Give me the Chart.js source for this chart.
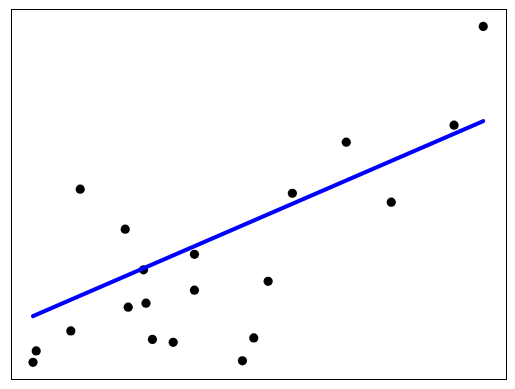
<!DOCTYPE html>
<html>
<head>
<meta charset="utf-8">
<script src="https://cdn.jsdelivr.net/npm/chart.js@4/dist/chart.umd.min.js"></script>
<style>
    body { margin: 0; background: #fff; }
    #wrap { width: 515px; height: 389px; }
</style>
</head>
<body>
<div id="wrap"><canvas id="regChart" width="515" height="389"></canvas></div>
<script>
// observed points (axis units 0..100 across the plot box)
const xValues = [4.55, 5.2, 12.2, 14.1, 23.2, 23.8, 26.9, 27.4, 28.7, 32.9,
    37.2, 37.2, 46.9, 49.2, 52.1, 57.0, 67.9, 77.0, 89.7, 95.6];
const yValues = [4.5, 7.6, 13.0, 51.3, 40.5, 19.4, 29.5, 20.5, 10.7, 9.9,
    33.7, 24.0, 4.9, 11.1, 26.4, 50.2, 64.0, 47.8, 68.6, 95.3];

// fitted line end points
const fitX = [4.55, 95.6];
const fitY = [17.0, 69.7];

const scatterData = xValues.map((x, i) => ({ x: x, y: yValues[i] }));
const fitData = fitX.map((x, i) => ({ x: x, y: fitY[i] }));

// plain black frame round the plot area, like matplotlib spines
const frame = {
    id: "frame",
    afterDraw(chart) {
        const a = chart.chartArea;
        const ctx = chart.ctx;
        ctx.save();
        ctx.strokeStyle = "#000";
        ctx.lineWidth = 1;
        ctx.strokeRect(Math.round(a.left) + 0.5, Math.round(a.top) + 0.5,
            Math.round(a.right - a.left), Math.round(a.bottom - a.top));
        ctx.restore();
    },
};

const ctx = document.getElementById("regChart").getContext("2d");
new Chart(ctx, {
    type: "scatter",
    data: {
        datasets: [
            {
                type: "line",
                data: fitData,
                borderColor: "#0000ff",
                borderWidth: 4,
                borderCapStyle: "round",
                pointRadius: 0,
                fill: false,
                order: 0,
            },
            {
                data: scatterData,
                backgroundColor: "#000",
                borderWidth: 0,
                pointRadius: 4.6,
                order: 1,
            },
        ],
    },
    options: {
        responsive: false,
        animation: false,
        layout: {
            padding: { left: 10.5, right: 10, top: 9, bottom: 10 },
        },
        plugins: {
            legend: { display: false },
            tooltip: { enabled: false },
        },
        scales: {
            x: { type: "linear", min: 0, max: 100, display: false },
            y: { type: "linear", min: 0, max: 100, display: false },
        },
    },
    plugins: [frame],
});
</script>
</body>
</html>
